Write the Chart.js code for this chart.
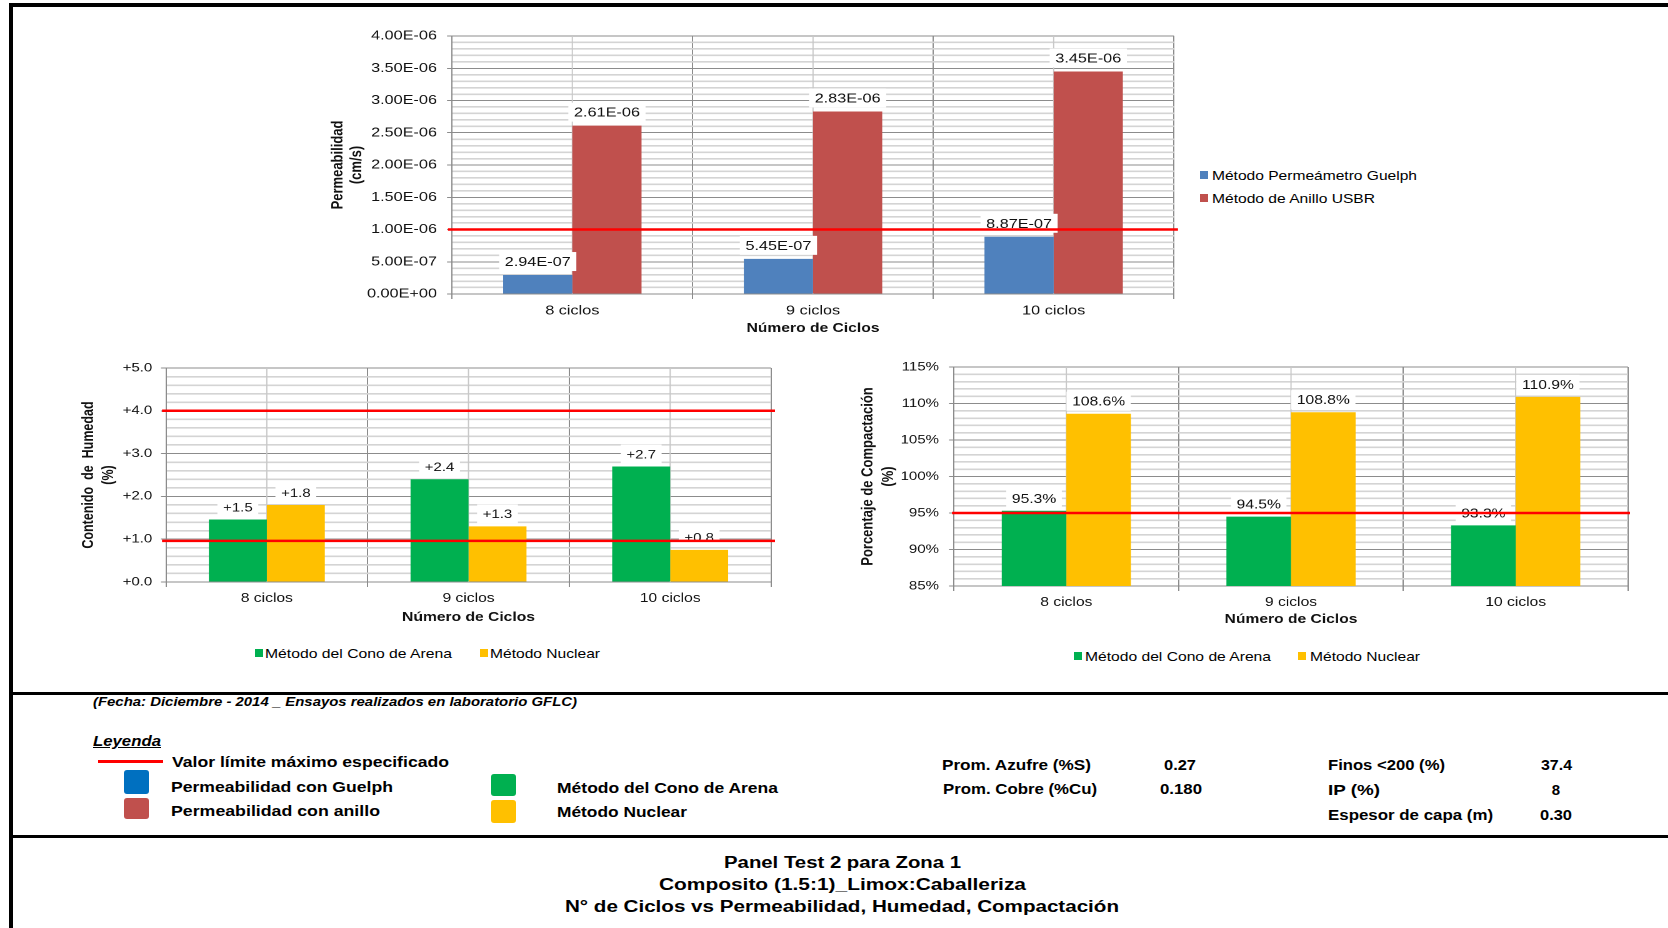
<!DOCTYPE html>
<html>
<head>
<meta charset="utf-8">
<script src="https://cdn.jsdelivr.net/npm/chart.js@4.4.0/dist/chart.umd.min.js"></script>
<style>
html,body{margin:0;padding:0;background:#fff;}
#page{position:relative;width:1668px;height:928px;overflow:hidden;background:#fff;font-family:"Liberation Sans",Arial,sans-serif;color:#000;}
canvas{position:absolute;}
.t{position:absolute;white-space:nowrap;line-height:1;transform-origin:0 50%;}
.b{font-weight:bold;}
.i{font-style:italic;}
.sq{position:absolute;}
.k{position:absolute;background:#000;}
.r{border-radius:3px;}
</style>
</head>
<body>
<div id="page">
  <!-- marco -->
  <div class="k" style="left:9px;top:3px;width:4px;height:925px"></div>
  <div class="k" style="left:9px;top:3px;width:1659px;height:4px"></div>
  <div class="k" style="left:9px;top:692px;width:1659px;height:3px"></div>
  <div class="k" style="left:9px;top:835px;width:1659px;height:3px"></div>

  <canvas id="cPerm"></canvas>
  <canvas id="cHum"></canvas>
  <canvas id="cComp"></canvas>

  <!-- leyenda permeabilidad -->
  <div class="sq" style="left:1200px;top:171px;width:8px;height:8px;background:#4F81BD"></div>
  <div class="sq" style="left:1200px;top:194px;width:8px;height:8px;background:#C0504D"></div>
  <div class="t" data-w="205" style="left:1212px;top:168.5px;font-size:13px">Método Permeámetro Guelph</div>
  <div class="t" data-w="163" style="left:1212px;top:191.5px;font-size:13px">Método de Anillo USBR</div>

  <!-- leyenda humedad -->
  <div class="sq" style="left:255px;top:649px;width:8px;height:8px;background:#00B050"></div>
  <div class="sq" style="left:480px;top:649px;width:8px;height:8px;background:#FFC000"></div>
  <div class="t" data-w="187" style="left:265px;top:646.5px;font-size:13px">Método del Cono de Arena</div>
  <div class="t" data-w="110" style="left:490px;top:646.5px;font-size:13px">Método Nuclear</div>

  <!-- leyenda compactacion -->
  <div class="sq" style="left:1074px;top:652px;width:8px;height:8px;background:#00B050"></div>
  <div class="sq" style="left:1298px;top:652px;width:8px;height:8px;background:#FFC000"></div>
  <div class="t" data-w="186" style="left:1085px;top:649.5px;font-size:13px">Método del Cono de Arena</div>
  <div class="t" data-w="110" style="left:1310px;top:649.5px;font-size:13px">Método Nuclear</div>

  <!-- bloque inferior -->
  <div class="t b i" data-w="484" style="left:93px;top:696px;font-size:12px">(Fecha: Diciembre - 2014 _ Ensayos realizados en laboratorio GFLC)</div>
  <div class="t b i" data-w="68" style="left:93px;top:734px;font-size:14px;text-decoration:underline">Leyenda</div>
  <div class="sq" style="left:98px;top:760px;width:65px;height:2.5px;background:#FF0000"></div>
  <div class="t b" data-w="277" style="left:172px;top:753.5px;font-size:15px">Valor límite máximo especificado</div>
  <div class="sq r" style="left:124px;top:770px;width:25px;height:24px;background:#0070C0"></div>
  <div class="sq r" style="left:124px;top:798px;width:25px;height:21px;background:#C0504D"></div>
  <div class="t b" data-w="222" style="left:171px;top:778.5px;font-size:15px">Permeabilidad con Guelph</div>
  <div class="t b" data-w="209" style="left:171px;top:802.5px;font-size:15px">Permeabilidad con anillo</div>
  <div class="sq r" style="left:491px;top:774px;width:25px;height:22px;background:#00B050"></div>
  <div class="sq r" style="left:491px;top:800px;width:25px;height:23px;background:#FFC000"></div>
  <div class="t b" data-w="221" style="left:557px;top:779.5px;font-size:15px">Método del Cono de Arena</div>
  <div class="t b" data-w="130" style="left:557px;top:803.5px;font-size:15px">Método Nuclear</div>

  <div class="t b" data-w="149" style="left:942px;top:756.5px;font-size:15px">Prom. Azufre (%S)</div>
  <div class="t b" data-w="32" style="left:1164px;top:756.5px;font-size:15px">0.27</div>
  <div class="t b" data-w="117" style="left:1328px;top:756.5px;font-size:15px">Finos &lt;200 (%)</div>
  <div class="t b" data-w="31" data-c="1556" style="top:756.5px;font-size:15px">37.4</div>
  <div class="t b" data-w="154" style="left:943px;top:780.5px;font-size:15px">Prom. Cobre (%Cu)</div>
  <div class="t b" data-w="42" style="left:1160px;top:780.5px;font-size:15px">0.180</div>
  <div class="t b" data-w="52" style="left:1328px;top:781.5px;font-size:15px">IP (%)</div>
  <div class="t b" data-c="1556" style="top:781.5px;font-size:15px">8</div>
  <div class="t b" data-w="165" style="left:1328px;top:806.5px;font-size:15px">Espesor de capa (m)</div>
  <div class="t b" data-w="32" data-c="1556" style="top:806.5px;font-size:15px">0.30</div>

  <div class="t b" data-w="237" data-c="842" style="top:855px;font-size:16px">Panel Test 2 para Zona 1</div>
  <div class="t b" data-w="367" data-c="842" style="top:877px;font-size:16px">Composito (1.5:1)_Limox:Caballeriza</div>
  <div class="t b" data-w="554" data-c="842" style="top:899px;font-size:16px">N° de Ciclos vs Permeabilidad, Humedad, Compactación</div>
</div>

<script>
// datos
const ciclos = ['8 ciclos', '9 ciclos', '10 ciclos'];
const permGuelph = [2.94e-7, 5.45e-7, 8.87e-7];
const permAnillo = [2.61e-6, 2.83e-6, 3.45e-6];
const permLimite = [1e-6];
const humArena = [1.46, 2.4, 2.7];
const humNuclear = [1.8, 1.3, 0.75];
const humLimites = [4.0, 0.96];
const compArena = [95.3, 94.5, 93.3];
const compNuclear = [108.6, 108.8, 110.9];
const compLimite = [95];

const AZUL = '#4F81BD', ROJO = '#C0504D', VERDE = '#00B050', AMARILLO = '#FFC000';
const GRID_MAJ = '#8C8C8C', GRID_MIN = '#D4D4D4';
const S = 1.25; // el original esta estirado en horizontal

Chart.defaults.font.family = '"Liberation Sans", Arial, sans-serif';
Chart.defaults.color = '#111';

function sci(v){
  if (v === 0) return '0.00E+00';
  let e = Math.floor(Math.log10(Math.abs(v)));
  let m = v / Math.pow(10, e);
  if (Math.round(m*100) >= 1000){ m /= 10; e += 1; }
  return m.toFixed(2) + 'E' + (e < 0 ? '-' : '+') + String(Math.abs(e)).padStart(2, '0');
}

// lineas centrales, etiquetas con fondo blanco y lineas limite
const marcas = {
  id: 'marcas',
  beforeDatasetsDraw(chart){
    const {ctx, chartArea: a, scales: {x}} = chart;
    ctx.save(); ctx.strokeStyle = '#C8C8C8'; ctx.lineWidth = 1;
    chart.data.labels.forEach((l, i) => {
      const px = x.getPixelForValue(i);
      ctx.beginPath(); ctx.moveTo(px, a.top); ctx.lineTo(px, a.bottom); ctx.stroke();
    });
    ctx.restore();
  },
  afterDatasetsDraw(chart, args, o){
    const {ctx, chartArea: a, scales: {y}} = chart;
    ctx.save();
    ctx.font = o.font; ctx.textAlign = 'center'; ctx.textBaseline = 'middle';
    chart.data.datasets.forEach((ds, di) => {
      chart.getDatasetMeta(di).data.forEach((bar, i) => {
        const txt = o.fmt(ds.data[i]);
        const w = ctx.measureText(txt).width + 2*o.padX;
        const cy = bar.y - o.gap - o.boxH/2;
        ctx.fillStyle = '#fff'; ctx.fillRect(bar.x - w/2, cy - o.boxH/2, w, o.boxH);
        ctx.fillStyle = '#111'; ctx.fillText(txt, bar.x, cy + 1);
      });
    });
    ctx.strokeStyle = '#FF0000'; ctx.lineWidth = 2.5;
    o.limits.forEach(v => {
      const py = y.getPixelForValue(v);
      ctx.beginPath(); ctx.moveTo(a.left - o.ext, py); ctx.lineTo(a.right + o.ext, py); ctx.stroke();
    });
    ctx.restore();
  }
};

function cfgBarras(p){
  const maj = c => c.tick && p.isMajor(c.tick.value);
  return {
    type: 'bar',
    data: { labels: ciclos, datasets: [
      { label: p.names[0], data: p.a, backgroundColor: p.colors[0], borderWidth: 0 },
      { label: p.names[1], data: p.b, backgroundColor: p.colors[1], borderWidth: 0 }
    ]},
    options: {
      responsive: false, animation: false, devicePixelRatio: 2,
      layout: { padding: { left: 0, top: p.padTop, right: p.padRight / S, bottom: 0 } },
      datasets: { bar: { categoryPercentage: 0.575, barPercentage: 1 } },
      plugins: { legend: { display: false }, tooltip: { enabled: false },
        marcas: { font: p.labelFont, fmt: p.labelFmt, padX: 4.5, boxH: 19, gap: p.gap, limits: p.limits, ext: p.ext / S } },
      scales: {
        x: {
          grid: { offset: true, color: GRID_MAJ, tickLength: 5, tickColor: GRID_MAJ },
          border: { color: GRID_MAJ },
          ticks: { color: '#111', font: { size: p.xTick }, padding: 4, maxRotation: 0 },
          title: { display: true, text: 'Número de Ciclos', color: '#111', font: { size: 12.5, weight: 'bold' }, padding: 0 },
          afterFit: s => { s.height = p.xAxisH; }
        },
        y: {
          min: p.min, max: p.max,
          ticks: { stepSize: p.step, autoSkip: false, color: '#111', font: { size: p.yTick }, padding: p.yTickPad,
            callback: v => p.isMajor(v) ? p.tickFmt(v) : '' },
          grid: { color: c => maj(c) ? GRID_MAJ : GRID_MIN, lineWidth: c => maj(c) ? 1 : 1.6,
            tickLength: 4, tickColor: c => maj(c) ? GRID_MAJ : 'rgba(0,0,0,0)' },
          border: { color: GRID_MAJ },
          title: { display: true, text: p.yTitle, color: '#111',
            font: { size: p.yTitleSize, weight: 'bold', lineHeight: p.yTitleLH }, padding: { top: p.yTitlePad, bottom: 0 } },
          afterFit: s => { s.width = p.yAxisW / S; }
        }
      }
    },
    plugins: [marcas]
  };
}

function makeChart(id, box, cfg){
  const c = document.getElementById(id);
  c.style.left = box.x + 'px'; c.style.top = box.y + 'px';
  c.style.width = box.w + 'px'; c.style.height = box.h + 'px';
  c.width = Math.round(box.w / S); c.height = box.h;
  return new Chart(c, cfg);
}

makeChart('cPerm', { x: 300, y: 20, w: 900, h: 316 }, cfgBarras({
  names: ['Método Permeámetro Guelph', 'Método de Anillo USBR'], a: permGuelph, b: permAnillo, colors: [AZUL, ROJO],
  min: 0, max: 4e-6, step: 1e-7, isMajor: v => Math.round(v * 1e7) % 5 === 0, tickFmt: sci,
  padTop: 16, padRight: 26, yAxisW: 152, xAxisH: 42, yTickPad: 8, yTick: 13, xTick: 13,
  yTitle: ['Permeabilidad', '(cm/s)'], yTitleSize: 13, yTitleLH: 1.17, yTitlePad: 22.8,
  labelFont: '13px "Liberation Sans", Arial', labelFmt: sci, gap: 4, limits: permLimite, ext: 4
}));

makeChart('cHum', { x: 60, y: 345, w: 740, h: 280 }, cfgBarras({
  names: ['Método del Cono de Arena', 'Método Nuclear'], a: humArena, b: humNuclear, colors: [VERDE, AMARILLO],
  min: 0, max: 5, step: 0.2, isMajor: v => Math.round(v * 10) % 10 === 0, tickFmt: v => '+' + v.toFixed(1),
  padTop: 23, padRight: 29, yAxisW: 106, xAxisH: 43, yTickPad: 7, yTick: 12, xTick: 12.5,
  yTitle: ['Contenido  de  Humedad', '(%)'], yTitleSize: 12.5, yTitleLH: 1.28, yTitlePad: 15.2,
  labelFont: '12px "Liberation Sans", Arial', labelFmt: v => '+' + v.toFixed(1), gap: 3, limits: humLimites, ext: 4
}));

makeChart('cComp', { x: 800, y: 345, w: 860, h: 282 }, cfgBarras({
  names: ['Método del Cono de Arena', 'Método Nuclear'], a: compArena, b: compNuclear, colors: [VERDE, AMARILLO],
  min: 85, max: 115, step: 1, isMajor: v => Math.round(v) % 5 === 0, tickFmt: v => Math.round(v) + '%',
  padTop: 22, padRight: 32, yAxisW: 154, xAxisH: 41, yTickPad: 8, yTick: 12, xTick: 12.5,
  yTitle: ['Porcentaje de Compactación', '(%)'], yTitleSize: 13, yTitleLH: 1.29, yTitlePad: 46,
  labelFont: '12.5px "Liberation Sans", Arial', labelFmt: v => v.toFixed(1) + '%', gap: 3, limits: compLimite, ext: 2
}));

// ajustar el ancho de los textos al original
document.querySelectorAll('.t').forEach(el => {
  const nat = el.getBoundingClientRect().width;
  const w = el.dataset.w ? +el.dataset.w : nat;
  el.style.transform = 'scaleX(' + (w / nat).toFixed(4) + ')';
  if (el.dataset.c) el.style.left = (+el.dataset.c - w / 2) + 'px';
});
</script>
</body>
</html>
